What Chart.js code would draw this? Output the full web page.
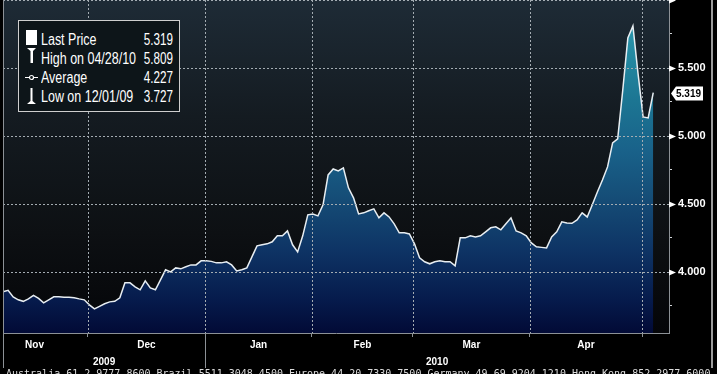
<!DOCTYPE html>
<html>
<head>
<meta charset="utf-8">
<title>Price history</title>
<script src="https://cdn.jsdelivr.net/npm/chart.js@4.4.1/dist/chart.umd.min.js"></script>
<style>
  body { margin: 0; background: #000; }
  #wrap { position: relative; width: 717px; height: 374px; overflow: hidden; background: #000; }
  #chart { position: absolute; left: 0; top: 0; }
  #legend {
    position: absolute; left: 18px; top: 20px; width: 162px; height: 92px;
    box-sizing: border-box; border: 1px solid #cfcfcf; background: #0d1519;
    font-family: "Liberation Sans", sans-serif;
    font-size: 16px; color: #fff;
  }
  #legend .row { position: absolute; left: 0; right: 0; height: 19px; line-height: 19px; }
  #legend .ico { position: absolute; left: 6px; top: 0; width: 14px; height: 19px; overflow: visible; }
  #legend .lbl { position: absolute; left: 22px; transform: scaleX(0.78); transform-origin: left center; white-space: nowrap; }
  #legend .val { position: absolute; right: 6px; transform: scaleX(0.73); transform-origin: right center; }
  #footer {
    position: absolute; left: 6px; top: 368px; white-space: nowrap;
    font: 10px "DejaVu Sans Mono", monospace; line-height: 12px; color: #dcdcdc;
  }
  #frame { position: absolute; left: 711px; top: 0; width: 2px; height: 368px; background: #9c9c9c; }
</style>
</head>
<body>
<div id="wrap">
  <canvas id="chart" width="717" height="374"></canvas>
  <div id="legend"></div>
  <div id="footer">Australia 61 2 9777 8600 Brazil 5511 3048 4500 Europe 44 20 7330 7500 Germany 49 69 9204 1210 Hong Kong 852 2977 6000</div>
  <div id="frame"></div>
</div>
<script>
// Daily closes, one per business day (Nov 2009 - early May 2010)
const prices = [
  3.853, 3.864, 3.816, 3.794, 3.783, 3.801, 3.827, 3.805, 3.772, 3.794,
  3.816, 3.816, 3.813, 3.813, 3.809, 3.801, 3.794, 3.757, 3.727, 3.746,
  3.765, 3.779, 3.783, 3.809, 3.919, 3.919, 3.890, 3.868, 3.934, 3.882,
  3.868, 3.941, 4.015, 4.000, 4.029, 4.022, 4.037, 4.051, 4.051, 4.081,
  4.081, 4.077, 4.066, 4.066, 4.074, 4.051, 4.007, 4.015, 4.029, 4.110,
  4.191, 4.199, 4.206, 4.221, 4.265, 4.265, 4.301, 4.199, 4.147, 4.265,
  4.419, 4.426, 4.412, 4.493, 4.713, 4.757, 4.743, 4.765, 4.618, 4.544,
  4.426, 4.434, 4.449, 4.463, 4.397, 4.434, 4.404, 4.353, 4.287, 4.287,
  4.279, 4.206, 4.103, 4.074, 4.059, 4.074, 4.081, 4.074, 4.074, 4.044,
  4.250, 4.250, 4.265, 4.257, 4.265, 4.294, 4.324, 4.331, 4.309, 4.353,
  4.397, 4.301, 4.287, 4.265, 4.213, 4.184, 4.180, 4.176, 4.257, 4.294,
  4.368, 4.360, 4.357, 4.382, 4.434, 4.404, 4.493, 4.588, 4.676, 4.772,
  4.949, 4.978, 5.338, 5.721, 5.809, 5.460, 5.140, 5.132, 5.319
];

// Month names and the day index where each month starts (last entry = May)
const monthLabels = ['Nov', 'Dec', 'Jan', 'Feb', 'Mar', 'Apr'];
const monthStarts = [-4.3, 16.7, 39.8, 60.8, 80.7, 103.7, 125.8];

// Year row under the months
const yearLabels = ['2009', '2010'];
const yearBounds = [0, 39.8, 131.1];

// Price axis ticks (labels only on the half units)
const yTicks = [3.75, 4.0, 4.25, 4.5, 4.75, 5.0, 5.25, 5.5, 5.75, 6.0];
const yMin = 3.55;
const yMax = 6.0;

// Legend box
const legendLabels = ['Last Price', 'High on 04/28/10', 'Average', 'Low on 12/01/09'];
const legendValues = ['5.319', '5.809', '4.227', '3.727'];

const xMax = yearBounds[yearBounds.length - 1];
const gridColor = '#a4acb2';
const axisColor = '#8c9196';

function isMajor(v) {
    return Math.abs(v * 2 - Math.round(v * 2)) < 1e-9;
}

// x ticks: month edges carry the tick marks, centres carry the names
const xTicks = [];
monthStarts.forEach(v => {
    if (v > 0 && v <= xMax) xTicks.push({ value: v, label: '', edge: true });
});
monthLabels.forEach((m, k) => {
    xTicks.push({ value: (monthStarts[k] + monthStarts[k + 1]) / 2, label: m, edge: false });
});
yearLabels.forEach((yr, k) => {
    xTicks.push({ value: (yearBounds[k] + yearBounds[k + 1]) / 2, label: ['', yr], edge: false });
});
xTicks.sort((a, b) => a.value - b.value);

// Build the legend rows
const icons = [
    '<rect x="1" y="0" width="11" height="15" fill="#fff"/>',
    '<path d="M2 -1 H11 L8 2 V14 H5.5 V2 Z" fill="#fff"/>',
    '<line x1="0" y1="9.5" x2="13" y2="9.5" stroke="#fff" stroke-width="1"/><circle cx="6.5" cy="9.5" r="2" fill="#0d1519" stroke="#fff" stroke-width="1.2"/>',
    '<path d="M5.5 1 H7.5 V14 L11 17 H2 L5.5 14 Z" fill="#fff"/>'
];
const legend = document.getElementById('legend');
legendLabels.forEach((label, k) => {
    const row = document.createElement('div');
    row.className = 'row';
    row.style.top = (9 + k * 19) + 'px';
    row.innerHTML = `
        <svg class="ico" width="14" height="19">${icons[k]}</svg>
        <span class="lbl">${label}</span>
        <span class="val">${legendValues[k]}</span>
    `;
    legend.appendChild(row);
});

// Area fill: teal near the top fading to navy at the bottom
function areaFill(context) {
    const area = context.chart.chartArea;
    if (!area) return null;
    const g = context.chart.ctx.createLinearGradient(0, area.top, 0, area.bottom);
    g.addColorStop(0.00, '#35a8b8');
    g.addColorStop(0.10, '#2892a8');
    g.addColorStop(0.30, '#1c7693');
    g.addColorStop(0.45, '#19628a');
    g.addColorStop(0.60, '#154c76');
    g.addColorStop(0.75, '#0e3465');
    g.addColorStop(0.90, '#061b4c');
    g.addColorStop(1.00, '#020a36');
    return g;
}

// Plot background: dark slate at the top, almost black lower down
const plotBackground = {
    id: 'plotBackground',
    beforeDraw(chart) {
        const { ctx, chartArea: a } = chart;
        const g = ctx.createLinearGradient(0, a.top, 0, a.bottom);
        g.addColorStop(0, '#1e2b36');
        g.addColorStop(0.35, '#141b21');
        g.addColorStop(0.7, '#0d1013');
        g.addColorStop(1, '#040508');
        ctx.save();
        ctx.fillStyle = g;
        ctx.fillRect(a.left, a.top, a.right - a.left, a.bottom - a.top);
        ctx.restore();
    }
};

// Dotted grid over the filled area, at month starts and half units
const dottedGrid = {
    id: 'dottedGrid',
    afterDatasetsDraw(chart) {
        const { ctx, chartArea: a } = chart;
        const x = chart.scales.x;
        const y = chart.scales.y;
        ctx.save();
        ctx.strokeStyle = gridColor;
        ctx.lineWidth = 1;
        ctx.setLineDash([2, 2]);
        monthStarts.filter(v => v > 0 && v <= xMax).forEach(v => {
            const px = Math.round(x.getPixelForValue(v)) + 0.5;
            ctx.beginPath();
            ctx.moveTo(px, a.top);
            ctx.lineTo(px, a.bottom);
            ctx.stroke();
        });
        yTicks.filter(isMajor).forEach(v => {
            const py = Math.round(y.getPixelForValue(v)) + 0.5;
            ctx.beginPath();
            ctx.moveTo(a.left, py);
            ctx.lineTo(a.right, py);
            ctx.stroke();
        });
        ctx.restore();
    }
};

// Flags on the price axis, last price tag and year dividers
const axisMarkers = {
    id: 'axisMarkers',
    afterDraw(chart) {
        const { ctx, chartArea: a } = chart;
        const x = chart.scales.x;
        const y = chart.scales.y;
        ctx.save();
        ctx.fillStyle = '#fff';
        yTicks.filter(isMajor).forEach(v => {
            const py = Math.round(y.getPixelForValue(v)) + 0.5;
            ctx.beginPath();
            ctx.moveTo(y.left, py - 3);
            ctx.lineTo(y.left + 7, py);
            ctx.lineTo(y.left, py + 3);
            ctx.closePath();
            ctx.fill();
        });

        const last = prices[prices.length - 1];
        const ly = Math.round(y.getPixelForValue(last)) + 0.5;
        ctx.beginPath();
        ctx.moveTo(y.left + 2, ly);
        ctx.lineTo(y.left + 7, ly - 7);
        ctx.lineTo(y.left + 34, ly - 7);
        ctx.lineTo(y.left + 34, ly + 7);
        ctx.lineTo(y.left + 7, ly + 7);
        ctx.closePath();
        ctx.fill();
        ctx.fillStyle = '#000';
        ctx.font = 'bold 10px "Liberation Sans"';
        ctx.textBaseline = 'middle';
        ctx.fillText(last.toFixed(3), y.left + 7, ly + 1);

        ctx.strokeStyle = axisColor;
        ctx.lineWidth = 1;
        yearBounds.slice(0, -1).forEach((v, k) => {
            const px = Math.round(x.getPixelForValue(v)) + 0.5;
            ctx.beginPath();
            ctx.moveTo(px, k === 0 ? 0 : a.bottom);
            ctx.lineTo(px, 368);
            ctx.stroke();
        });
        ctx.restore();
    }
};

const tickFont = { family: 'Liberation Sans', size: 10, weight: 'bold', lineHeight: 1.7 };

const ctx = document.getElementById('chart').getContext('2d');
const myChart = new Chart(ctx, {
    type: 'line',
    data: {
        datasets: [{
            data: prices.map((p, i) => ({ x: i, y: p })),
            borderColor: '#e8eef2',
            borderWidth: 1.5,
            pointRadius: 0,
            tension: 0,
            fill: 'start',
            backgroundColor: areaFill
        }]
    },
    options: {
        responsive: false,
        animation: false,
        events: [],
        layout: { padding: { left: 3, top: 0, right: 0, bottom: 0 } },
        plugins: { legend: { display: false }, tooltip: { enabled: false } },
        scales: {
            x: {
                type: 'linear',
                min: 0,
                max: xMax,
                afterBuildTicks: scale => { scale.ticks = xTicks.map(t => ({ value: t.value })); },
                afterFit: scale => { scale.height = 41; scale.paddingLeft = 0; scale.paddingRight = 0; },
                border: { color: axisColor, width: 1 },
                grid: {
                    drawOnChartArea: false,
                    tickColor: c => (xTicks[c.index] && xTicks[c.index].edge) ? axisColor : 'transparent',
                    tickLength: 4
                },
                ticks: {
                    autoSkip: false,
                    maxRotation: 0,
                    padding: 0,
                    color: '#fff',
                    font: tickFont,
                    callback: (v, i) => xTicks[i] ? xTicks[i].label : ''
                }
            },
            y: {
                position: 'right',
                min: yMin,
                max: yMax,
                afterBuildTicks: scale => { scale.ticks = yTicks.map(v => ({ value: v })); },
                afterFit: scale => { scale.width = 48; scale.paddingTop = 0; scale.paddingBottom = 0; },
                border: { color: axisColor, width: 1 },
                grid: {
                    drawOnChartArea: false,
                    tickColor: c => isMajor(c.tick.value) ? 'transparent' : '#cfd3d6',
                    tickLength: 3
                },
                ticks: {
                    padding: 6,
                    color: '#fff',
                    font: { family: 'Liberation Sans', size: 11, weight: 'bold' },
                    callback: v => (isMajor(v) && v < yMax) ? v.toFixed(3) : ''
                }
            }
        }
    },
    plugins: [plotBackground, dottedGrid, axisMarkers]
});
</script>
</body>
</html>
